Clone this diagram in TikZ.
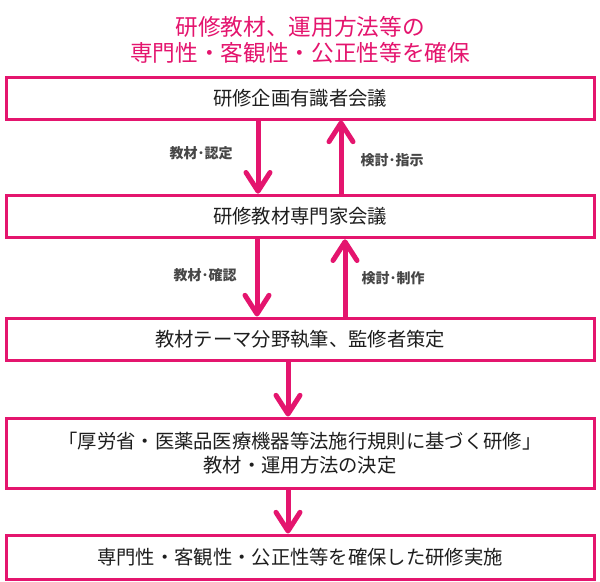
\documentclass[tikz,border=0pt]{standalone}
\usepackage{fontspec}
\setmainfont{Noto Sans CJK JP}
\usetikzlibrary{arrows.meta}

\definecolor{flowpink}{RGB}{228,21,110}
\definecolor{boxtext}{RGB}{30,30,30}
\definecolor{notegray}{RGB}{70,70,70}

\tikzset{every picture/.style={line width=0.75pt}}
\tikzset{
  stepbox/.style={draw=flowpink, line width=2.25pt, fill=white, minimum width=441pt, inner sep=0pt,
    align=center, text=boxtext, font=\fontsize{14.5}{18}\selectfont},
  flow/.style={draw=flowpink, line width=3.75pt, -{Straight Barb[length=14pt,width=18pt,round]}},
  note/.style={text=notegray, font=\bfseries\fontsize{10.5}{12}\selectfont, inner sep=0.75pt},
  headline/.style={text=flowpink, align=center, font=\fontsize{17}{19.5}\selectfont},
}

\begin{document}
\begin{tikzpicture}[x=0.75pt,y=0.75pt,yscale=-1,xscale=1]
\path[use as bounding box] (0,0) rectangle (600,582);

% Title
\node[headline] (head) at (300,40) {研修教材、運用方法等の\\専門性・客観性・公正性等を確保};

% Boxes
\node[stepbox, minimum height=31.5pt] (planning) at (300,98) {研修企画有識者会議};
\node[stepbox, minimum height=32pt] (expert) at (300,216.5) {研修教材専門家会議};
\node[stepbox, minimum height=31.5pt] (writers) at (300,339) {教材テーマ分野執筆、監修者策定};
\node[stepbox, minimum height=52.5pt] (decision) at (300,453) {「厚労省・医薬品医療機器等法施行規則に基づく研修」\\教材・運用方法の決定};
\node[stepbox, minimum height=33pt] (practice) at (300,557) {専門性・客観性・公正性等を確保した研修実施};

% Arrows
\draw[flow] ([xshift=-31.5pt]planning.south) -- ([xshift=-31.5pt]expert.north);
\draw[flow] ([xshift=30.75pt]expert.north) -- ([xshift=30.75pt]planning.south);
\draw[flow] ([xshift=-32.25pt]expert.south) -- ([xshift=-32.25pt]writers.north);
\draw[flow] ([xshift=33.75pt]writers.north) -- ([xshift=33.75pt]expert.south);
\draw[flow] ([xshift=-9pt]writers.south) -- ([xshift=-9pt]decision.north);
\draw[flow] ([xshift=-9pt]decision.south) -- ([xshift=-9pt]practice.north);

% Text Node
\node[note] (approve) at (201,153) {教材･認定};
% Text Node
\node[note] (instruct) at (392,160) {検討･指示};
% Text Node
\node[note] (confirm) at (205,275) {教材･確認};
% Text Node
\node[note] (produce) at (393,278) {検討･制作};

\end{tikzpicture}
\end{document}
